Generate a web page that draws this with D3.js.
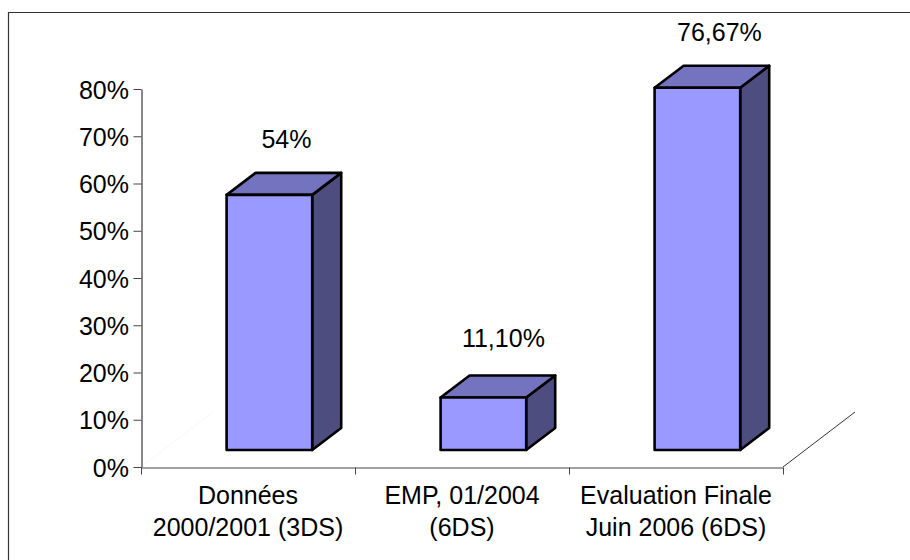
<!DOCTYPE html>
<html>
<head>
<meta charset="utf-8">
<script src="https://cdn.jsdelivr.net/npm/d3@7"></script>
<style>
    html, body { margin: 0; padding: 0; background: #fff; }
    svg { display: block; }
    text { font-family: "Liberation Sans", Arial, sans-serif; font-size: 25px; fill: #000; }
</style>
</head>
<body>
<svg id="chart"></svg>
<script>
const categories = ["Données|2000/2001 (3DS)", "EMP, 01/2004|(6DS)", "Evaluation Finale|Juin 2006 (6DS)"];
const values = [54, 11.1, 76.67];
const valueLabels = ["54%", "11,10%", "76,67%"];
const yTicks = [0, 10, 20, 30, 40, 50, 60, 70, 80];

const width = 910, height = 560;
const plot = { left: 141, right: 783, bottom: 467, top: 89 };
const floor = { dx: 72, dy: -55 };   // depth of the chart floor
const depth = { dx: 29, dy: -22 };   // depth of each bar
const barFloat = 17;                 // front base of the bars sits above the axis
const labelShift = [17, 20, 22];
const labelGap = [47, 51, 47];

const svg = d3.select("#chart").attr("width", width).attr("height", height);

// frame is cut off by the picture on the right and at the bottom
svg.append("path")
    .attr("d", `M8.5,${height}V12.5H${width}`)
    .attr("fill", "none")
    .attr("stroke", "#333")
    .attr("stroke-width", 1.2);

const x = d3.scaleBand().domain(categories).range([plot.left, plot.right]);
const y = d3.scaleLinear().domain([0, 80]).range([plot.bottom, plot.top]);
const barWidth = x.bandwidth() * 0.4;
const barOffset = x.bandwidth() * 0.4;

// floor edges behind the axis
svg.append("path")
    .attr("d", `M${plot.left},${plot.bottom}l${floor.dx},${floor.dy}`)
    .attr("stroke", "#f8f8f8").attr("fill", "none");
svg.append("path")
    .attr("d", `M${plot.right},${plot.bottom}l${floor.dx},${floor.dy}`)
    .attr("stroke", "#333").attr("fill", "none");

const xAxis = svg.append("g")
    .attr("transform", `translate(0,${plot.bottom + 0.5})`)
    .call(d3.axisBottom(x).tickValues([]).tickSizeOuter(0));
xAxis.selectAll("path").attr("stroke", "#444").attr("stroke-width", 1);
xAxis.selectAll(".sep")
    .data(d3.range(4))
    .join("line")
    .attr("class", "sep")
    .attr("x1", i => plot.left + i * x.step() + 0.5)
    .attr("x2", i => plot.left + i * x.step() + 0.5)
    .attr("y1", 0).attr("y2", 7)
    .attr("stroke", "#444");

const yAxis = svg.append("g")
    .attr("transform", `translate(${plot.left + 0.5},0)`)
    .call(d3.axisLeft(y).tickValues(yTicks).tickSize(8).tickSizeOuter(0).tickFormat(d => d + "%"));
yAxis.selectAll("path").attr("stroke", "#555").attr("stroke-width", 1.4);
yAxis.selectAll("line").attr("stroke", "#444");
yAxis.selectAll("text")
    .attr("x", -12.5)
    .attr("dy", "0.36em")
    .style("font-size", "25px")
    .style("font-family", '"Liberation Sans", Arial, sans-serif');

const bars = svg.selectAll(".bar")
    .data(values)
    .join("g")
    .attr("class", "bar")
    .attr("stroke", "#000")
    .attr("stroke-width", 2.6)
    .attr("stroke-linejoin", "round");

const frontX = (d, i) => x(categories[i]) + barOffset;
const baseY = plot.bottom - barFloat;
const barTop = d => baseY - (plot.bottom - y(d));

bars.append("path")   // side
    .attr("fill", "#4d4d80")
    .attr("d", (d, i) => {
        const l = frontX(d, i) + barWidth;
        return `M${l},${barTop(d)}l${depth.dx},${depth.dy}V${baseY + depth.dy}L${l},${baseY}Z`;
    });
bars.append("path")   // top
    .attr("fill", "#7373bf")
    .attr("d", (d, i) => {
        const l = frontX(d, i);
        return `M${l},${barTop(d)}l${depth.dx},${depth.dy}h${barWidth}l${-depth.dx},${-depth.dy}Z`;
    });
bars.append("rect")   // front
    .attr("fill", "#9999ff")
    .attr("x", (d, i) => frontX(d, i))
    .attr("y", d => barTop(d))
    .attr("width", barWidth)
    .attr("height", d => baseY - barTop(d));

svg.selectAll(".value")
    .data(values)
    .join("text")
    .attr("class", "value")
    .attr("text-anchor", "middle")
    .attr("x", (d, i) => frontX(d, i) + barWidth / 2 + labelShift[i])
    .attr("y", (d, i) => barTop(d) - labelGap[i])
    .text((d, i) => valueLabels[i]);

svg.selectAll(".cat")
    .data(categories)
    .join("text")
    .attr("class", "cat")
    .attr("text-anchor", "middle")
    .attr("x", d => x(d) + x.bandwidth() / 2)
    .attr("y", 504)
    .selectAll("tspan")
    .data(d => d.split("|"))
    .join("tspan")
    .attr("x", function () { return d3.select(this.parentNode).attr("x"); })
    .attr("dy", (d, i) => i ? 32 : 0)
    .text(d => d);
</script>
</body>
</html>
